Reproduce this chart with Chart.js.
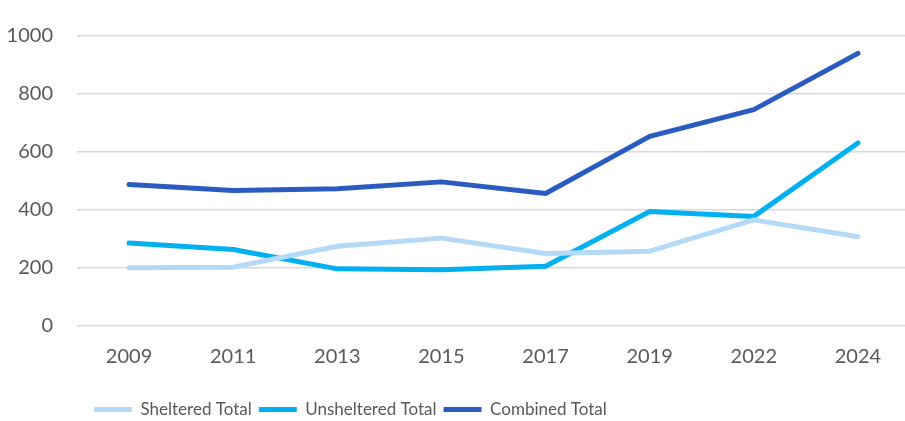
<!DOCTYPE html>
<html>
<head>
<meta charset="utf-8">
<script src="https://cdn.jsdelivr.net/npm/chart.js@4"></script>
<style>
  html, body { margin: 0; padding: 0; background: #fff; overflow: hidden; }
  #wrap { width: 905px; height: 421px; overflow: hidden; }
</style>
</head>
<body>
<div id="wrap"><canvas id="chart" width="910" height="421"></canvas></div>
<script>
const years = ['2009', '2011', '2013', '2015', '2017', '2019', '2022', '2024'];
const sheltered = [201, 203, 275, 303, 250, 258, 366, 308];
const unsheltered = [286, 264, 197, 194, 206, 395, 378, 631];
const combined = [488, 467, 473, 497, 457, 654, 746, 940];
const yTicks = [0, 200, 400, 600, 800, 1000];

const ctx = document.getElementById('chart').getContext('2d');

function lineSet(label, data, color) {
    return {
        label: label,
        data: data,
        borderColor: color,
        backgroundColor: color,
        borderWidth: 5,
        borderCapStyle: 'round',
        borderJoinStyle: 'round',
        pointRadius: 0,
        pointStyle: 'line',
        tension: 0,
        fill: false
    };
}

// Excel puts the legend left of centre, so nudge Chart.js' legend box
const legendNudge = {
    id: 'legendNudge',
    beforeDraw(chart) {
        const lg = chart.legend;
        const w = lg.width, h = lg.height;
        lg.left = 87;
        lg.right = 87 + w;
        lg.top = 394;
        lg.bottom = 394 + h;
    }
};

new Chart(ctx, {
    type: 'line',
    data: {
        labels: years,
        datasets: [
            lineSet('Sheltered Total', sheltered, '#b5daf7'),
            lineSet('Unsheltered Total', unsheltered, '#00b0f0'),
            lineSet('Combined Total', combined, '#2a5bc1')
        ]
    },
    plugins: [legendNudge],
    options: {
        responsive: false,
        animation: false,
        layout: { padding: { left: 7, right: 0, top: 14, bottom: -1 } },
        plugins: {
            tooltip: { enabled: false },
            legend: {
                position: 'bottom',
                align: 'start',
                labels: {
                    usePointStyle: true,
                    pointStyleWidth: 38,
                    color: '#595959',
                    font: { family: 'Lato', size: 17 },
                    padding: 7
                }
            }
        },
        scales: {
            x: {
                offset: true,
                grid: { display: false, drawTicks: false },
                border: { display: false },
                ticks: {
                    color: '#595959',
                    font: { family: 'Lato', size: 20 },
                    padding: 19
                }
            },
            y: {
                min: 0,
                max: 1000,
                afterBuildTicks: axis => { axis.ticks = yTicks.map(v => ({ value: v })); },
                afterFit: axis => { axis.width = 70; },
                grid: { color: '#d9d9d9', lineWidth: 1.5, drawTicks: false },
                border: { display: false },
                ticks: {
                    color: '#595959',
                    font: { family: 'Lato', size: 20 },
                    padding: 24,
                    callback: v => String(v)
                }
            }
        }
    }
});
</script>
</body>
</html>
